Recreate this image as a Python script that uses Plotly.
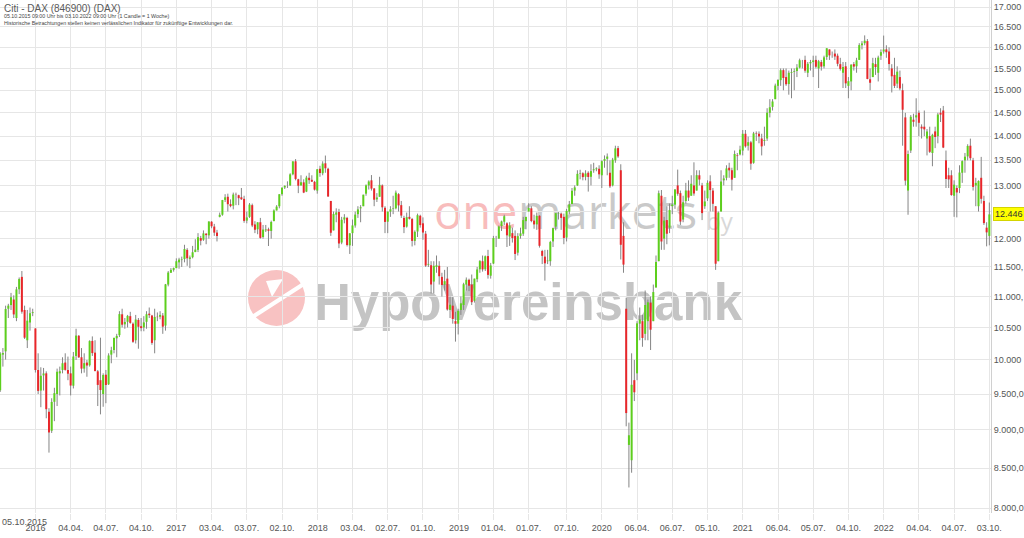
import math
import pandas as pd
import plotly.graph_objects as go

# ---------------- data (weekly candles, DAX) ----------------
first_week = "2015-10-05"

open_ = [
    # 2015
    9553, 10080, 10130, 10800, 10860, 10950, 10650, 11120, 11330, 10780, 10300, 10580, 10730,
    # 2016
    10485, 9850, 9550, 9770, 9800, 9250, 8990, 9390, 9500, 9800, 9850, 9960, 9850, 9800, 9620, 10060,
    10370, 10040, 9870, 9960, 9920, 10290, 10110, 9830, 9700, 9500, 9780, 9640, 10080, 10150, 10330,
    10380, 10710, 10550, 10590, 10680, 10560, 10300, 10620, 10520, 10500, 10590, 10720, 10690, 10300,
    10670, 10670, 10690, 10530, 11200, 11400, 11450,
    # 2017
    11480, 11580, 11620, 11640, 11800, 11640, 11670, 11760, 11800, 12010, 11980, 12090, 12060, 12310,
    12220, 12110, 12400, 12440, 12720, 12780, 12640, 12610, 12820, 12810, 12770, 12740, 12330, 12400,
    12620, 12260, 12170, 12300, 12030, 12150, 12170, 12140, 12320, 12520, 12600, 12830, 12960, 12990,
    13000, 13220, 13480, 13120, 13000, 13060, 12880, 13150, 13110, 13070,
    # 2018
    12900, 13330, 13240, 13440, 13330, 12700, 12150, 12440, 12490, 11930, 12350, 12380, 11880, 12100,
    12240, 12450, 12560, 12600, 12840, 13000, 13100, 12940, 12730, 12780, 13000, 12570, 12310, 12500,
    12550, 12560, 12830, 12620, 12380, 12220, 12400, 12360, 11960, 12130, 12420, 12280, 12090, 11540,
    11530, 11250, 11500, 11520, 11330, 11200, 11300, 10780, 10850, 10600, 10560,
    # 2019
    10780, 10860, 11200, 11280, 11200, 10930, 11290, 11460, 11600, 11460, 11690, 11350, 11560, 12000,
    12000, 12230, 12310, 12280, 12040, 12100, 12050, 11750, 12050, 12090, 12320, 12500, 12560, 12330,
    12260, 12420, 11780, 11680, 11600, 11600, 11950, 12220, 12460, 12460, 12400, 12020, 12500, 12640,
    12900, 13000, 13230, 13240, 13170, 13250, 13170, 13300, 13320, 13330,
    # 2020
    13200, 13490, 13530, 13250, 13000, 13500, 13750, 13300, 12050, 10800, 8800, 8600, 9700, 9800,
    10560, 10600, 10400, 10600, 10900, 10600, 11150, 11600, 12800, 12000, 12340, 12200, 12600, 12630,
    13000, 12850, 12350, 12700, 12900, 12800, 13000, 12900, 13200, 13000, 12600, 12750, 13080, 12900,
    12600, 11600, 12500, 13100, 13150, 13350, 13300, 13150, 13600, 13620,
    # 2021
    13700, 14050, 13800, 13870, 13450, 14060, 14050, 13950, 13900, 13950, 14500, 14630, 14800, 15100,
    15230, 15460, 15300, 15140, 15400, 15420, 15440, 15520, 15690, 15700, 15400, 15620, 15650, 15700,
    15500, 15650, 15550, 15770, 15950, 15850, 15850, 15800, 15600, 15400, 15550, 15100, 15200, 15600,
    15550, 15700, 16050, 16100, 16150, 15250, 15300, 15600, 15400, 15800,
    # 2022
    15900, 15950, 15900, 15500, 15350, 15150, 15300, 15000, 14400, 12900, 13700, 14350, 14400, 14500,
    14200, 14200, 13950, 14000, 13650, 14100, 14000, 14500, 14550, 13500, 13200, 13200, 12800, 12950,
    12950, 13250, 13500, 13580, 13800, 13500, 13000, 12600, 13150, 12700, 12200, 12050,
]

high = [
    # 2015
    10118, 10180, 10850, 10880, 11060, 11020, 11160, 11320, 11430, 10850, 10780, 10820, 10800,
    # 2016
    10485, 10100, 9890, 9880, 9830, 9300, 9440, 9590, 9870, 9900, 10040, 10100, 10050, 9900, 10120,
    10480, 10380, 10180, 10100, 10000, 10300, 10360, 10300, 9850, 10340, 9800, 9850, 10100, 10200,
    10340, 10400, 10760, 10800, 10650, 10700, 10750, 10580, 10700, 10650, 10650, 10680, 10760, 10820,
    10700, 10800, 10740, 10760, 10730, 11210, 11430, 11480, 11490,
    # 2017
    11650, 11660, 11680, 11890, 11830, 11700, 11870, 11990, 12100, 12050, 12150, 12100, 12320, 12320,
    12270, 12160, 12480, 12720, 12830, 12840, 12730, 12860, 12860, 12820, 12950, 12800, 12500, 12660,
    12650, 12320, 12300, 12380, 12250, 12250, 12200, 12330, 12540, 12620, 12830, 12960, 13000, 13080,
    13240, 13480, 13525, 13130, 13200, 13120, 13190, 13250, 13200, 13090,
    # 2018
    13320, 13390, 13480, 13597, 13350, 12700, 12500, 12560, 12550, 12400, 12450, 12400, 12100, 12350,
    12500, 12600, 12620, 12820, 13020, 13100, 13204, 12950, 12850, 13170, 13020, 12600, 12500, 12600,
    12800, 12900, 12850, 12700, 12420, 12480, 12600, 12380, 12150, 12460, 12440, 12390, 12140, 11800,
    11600, 11600, 11700, 11600, 11400, 11450, 11500, 11000, 10990, 10750, 10800,
    # 2019
    11000, 11230, 11320, 11300, 11370, 11300, 11500, 11620, 11700, 11700, 11800, 11570, 12050, 12050,
    12240, 12330, 12440, 12300, 12300, 12200, 12150, 12100, 12200, 12400, 12400, 12656, 12600, 12440,
    12480, 12430, 11800, 11800, 11800, 11960, 12200, 12470, 12490, 12480, 12460, 12550, 12700, 12950,
    13000, 13300, 13310, 13260, 13300, 13280, 13420, 13450, 13360, 13400,
    # 2020
    13500, 13600, 13640, 13500, 13550, 13800, 13795, 13420, 12300, 10980, 9100, 10100, 10000, 10600,
    10820, 10700, 11100, 10950, 11000, 11200, 11700, 12900, 12910, 12400, 12600, 12650, 12800, 12930,
    13313, 12900, 12800, 13050, 13100, 13200, 13460, 13300, 13300, 13050, 12900, 13100, 13200, 12950,
    12600, 12500, 13300, 13200, 13400, 13450, 13350, 13700, 13650, 13800,
    # 2021
    14130, 14130, 13990, 13900, 14090, 14100, 14100, 14050, 14200, 14600, 14800, 14800, 15150, 15250,
    15500, 15500, 15500, 15450, 15500, 15500, 15600, 15730, 15700, 15800, 15650, 15700, 15800, 15800,
    15700, 15700, 15800, 15980, 15950, 15900, 15950, 15850, 15750, 15650, 15650, 15300, 15600, 15650,
    15750, 16100, 16150, 16290, 16200, 15500, 15750, 15750, 15800, 15950,
    # 2022
    16285, 16050, 16000, 15600, 15750, 15550, 15450, 15150, 14500, 13700, 14450, 14480, 14820, 14550,
    14250, 14550, 14150, 14200, 14050, 14200, 14500, 14600, 14650, 13700, 13350, 13300, 13100, 13000,
    13400, 13500, 13650, 13830, 13948, 13550, 13150, 13100, 13570, 12800, 12300, 12670,
]

low = [
    # 2015
    9530, 9900, 10005, 10650, 10780, 10650, 10600, 11040, 10720, 10320, 10180, 10450, 10680,
    # 2016
    9812, 9500, 9314, 9550, 9160, 8699, 8960, 9120, 9330, 9480, 9800, 9840, 9700, 9480, 9580, 10000,
    10030, 9800, 9810, 9750, 9900, 10060, 9830, 9330, 9214, 9320, 9370, 9630, 9950, 10100, 10040,
    10350, 10500, 10480, 10500, 10560, 10260, 10250, 10170, 10440, 10440, 10480, 10650, 10230, 10100,
    10600, 10630, 10400, 10450, 11170, 11400, 11420,
    # 2017
    11480, 11470, 11500, 11580, 11520, 11480, 11650, 11760, 11760, 11880, 11960, 11900, 12000, 12190,
    12050, 11950, 12390, 12420, 12680, 12500, 12580, 12540, 12620, 12620, 12720, 12290, 12280, 12380,
    12210, 12100, 12080, 12000, 12000, 12120, 11868, 12000, 12320, 12520, 12560, 12800, 12930, 12950,
    12990, 13200, 13100, 12850, 13000, 12850, 12870, 13030, 13070, 12900,
    # 2018
    12840, 13170, 13200, 13250, 12780, 12050, 12150, 12300, 11830, 11900, 12280, 11860, 11727, 11870,
    12200, 12380, 12300, 12600, 12800, 12920, 12900, 12600, 12680, 12780, 12500, 12100, 12100, 12400,
    12450, 12540, 12500, 12380, 12100, 12200, 12350, 11860, 11880, 12030, 12200, 11980, 11500, 11500,
    11050, 11050, 11400, 11200, 11000, 11100, 10770, 10650, 10560, 10279, 10390,
    # 2019
    10700, 10780, 11100, 11090, 10860, 10900, 11240, 11400, 11420, 11430, 11300, 11300, 11550, 11850,
    12000, 12140, 12250, 11850, 11870, 11930, 11620, 11700, 12000, 12050, 12170, 12500, 12300, 12180,
    12160, 11840, 11550, 11266, 11550, 11520, 11850, 12150, 12350, 12160, 11900, 11950, 12450, 12640,
    12800, 12990, 13120, 13100, 13100, 12880, 13000, 13250, 13280, 13130,
    # 2020
    12950, 13350, 13200, 12950, 12980, 13450, 13550, 11630, 11400, 9050, 8255, 8440, 9400, 9700,
    10300, 10200, 10300, 10300, 10150, 10600, 11150, 11600, 11800, 11800, 11900, 12100, 12450, 12550,
    12800, 12250, 12300, 12650, 12700, 12800, 12800, 12900, 13000, 12340, 12550, 12700, 12500, 12500,
    11450, 11600, 12500, 13000, 13100, 13150, 12900, 13150, 13300, 13600,
    # 2021
    13600, 13760, 13700, 13310, 13430, 13900, 13850, 13600, 13800, 13900, 14400, 14550, 14800, 15000,
    15100, 15000, 15100, 14900, 14820, 15000, 15300, 15500, 15500, 15400, 15300, 15450, 15300, 15500,
    15050, 15450, 15500, 15700, 15700, 15750, 15700, 15550, 15450, 15050, 15050, 14820, 15000, 15450,
    15400, 15700, 15950, 16050, 15250, 15000, 15300, 15350, 15200, 15700,
    # 2022
    15850, 15750, 15450, 14950, 15050, 15050, 15000, 13800, 13000, 12439, 13650, 14200, 14200, 14000,
    13950, 14000, 13600, 13650, 13380, 13750, 13850, 14300, 13750, 12950, 12950, 12800, 12400, 12390,
    12850, 13050, 13250, 13500, 13500, 12900, 12600, 12500, 12650, 12250, 11862, 11880,
]

close_ = [
    # 2015
    10096, 10104, 10795, 10850, 10988, 10708, 11119, 11293, 10752, 10340, 10608, 10727, 10743,
    # 2016
    9849, 9545, 9764, 9798, 9286, 8967, 9388, 9513, 9824, 9831, 9950, 9851, 9795, 9622, 10051, 10373,
    10039, 9870, 9952, 9916, 10287, 10103, 9834, 9631, 9557, 9776, 9630, 10067, 10147, 10337, 10367,
    10713, 10544, 10588, 10684, 10573, 10276, 10626, 10511, 10490, 10580, 10711, 10696, 10259, 10668,
    10665, 10700, 10513, 11203, 11404, 11449, 11481,
    # 2017
    11599, 11629, 11630, 11814, 11651, 11666, 11757, 11804, 12027, 11963, 12095, 12064, 12313, 12225,
    12109, 12048, 12438, 12717, 12770, 12638, 12602, 12823, 12815, 12753, 12733, 12325, 12389, 12631,
    12240, 12162, 12298, 12014, 12165, 12168, 12142, 12304, 12519, 12592, 12829, 12956, 12992, 12992,
    13218, 13479, 13127, 12994, 13060, 12861, 13153, 13103, 13073, 12918,
    # 2018
    13320, 13245, 13434, 13340, 12785, 12107, 12452, 12483, 11913, 12346, 12390, 11886, 12096, 12241,
    12442, 12540, 12580, 12820, 13001, 13077, 12938, 12724, 12766, 13011, 12580, 12306, 12497, 12541,
    12561, 12860, 12616, 12424, 12210, 12394, 12364, 11960, 12124, 12431, 12247, 12111, 11524, 11553,
    11201, 11519, 11529, 11341, 11193, 11257, 10788, 10866, 10634, 10559, 10767,
    # 2019
    10888, 11205, 11281, 11180, 10907, 11300, 11457, 11602, 11458, 11686, 11364, 11526, 12010, 11999,
    12222, 12315, 12412, 12060, 12239, 12011, 11727, 12045, 12096, 12340, 12399, 12568, 12323, 12260,
    12419, 11872, 11694, 11563, 11612, 11939, 12192, 12469, 12468, 12381, 12013, 12512, 12634, 12895,
    12961, 13228, 13241, 13164, 13236, 13166, 13283, 13319, 13337, 13219,
    # 2020
    13483, 13526, 13577, 12982, 13514, 13744, 13579, 11890, 11541, 9232, 8929, 9633, 9525, 10565,
    10626, 10336, 10861, 10905, 10465, 11074, 11587, 12848, 11949, 12331, 12089, 12528, 12633, 12920,
    12838, 12313, 12675, 12901, 12765, 13033, 12843, 13202, 13116, 12470, 12690, 13051, 12909, 12646,
    11556, 12480, 13077, 13137, 13336, 13298, 13114, 13630, 13587, 13719,
    # 2021
    14049, 13787, 13873, 13433, 14057, 14050, 13993, 13786, 13920, 14502, 14621, 14749, 15107, 15234,
    15459, 15280, 15136, 15400, 15417, 15437, 15520, 15693, 15693, 15448, 15608, 15650, 15688, 15540,
    15669, 15544, 15761, 15977, 15808, 15852, 15781, 15609, 15490, 15531, 15156, 15206, 15587, 15543,
    15689, 16054, 16094, 16160, 15257, 15170, 15623, 15532, 15756, 15885,
    # 2022
    15948, 15883, 15603, 15318, 15100, 15425, 15042, 14567, 13094, 13628, 14413, 14305, 14446, 14284,
    14163, 14143, 14098, 13674, 14027, 13982, 14462, 14460, 13762, 13126, 13118, 12813, 13015, 12864,
    13254, 13484, 13574, 13795, 13544, 12971, 13050, 13088, 12741, 12284, 12114, 12446,
]

x_tick_dates = [
    "2016-01-04", "2016-04-04", "2016-07-04", "2016-10-04", "2017-01-02", "2017-04-03", "2017-07-03",
    "2017-10-02", "2018-01-02", "2018-04-03", "2018-07-02", "2018-10-01", "2019-01-02", "2019-04-01",
    "2019-07-01", "2019-10-07", "2020-01-06", "2020-04-06", "2020-07-06", "2020-10-05", "2021-01-04",
    "2021-04-06", "2021-07-05", "2021-10-04", "2022-01-03", "2022-04-04", "2022-07-04", "2022-10-03",
]
x_tick_text = [
    "2016", "04.04.", "04.07.", "04.10.", "2017", "03.04.", "03.07.", "02.10.", "2018", "03.04.",
    "02.07.", "01.10.", "2019", "01.04.", "01.07.", "07.10.", "2020", "06.04.", "06.07.", "05.10.",
    "2021", "06.04.", "05.07.", "04.10.", "2022", "04.04.", "04.07.", "03.10.",
]
y_tick_values = [8000, 8500, 9000, 9500, 10000, 10500, 11000, 11500, 12000, 12500, 13000,
                 13500, 14000, 14500, 15000, 15500, 16000, 16500, 17000]
y_tick_text = ["8.000,0", "8.500,0", "9.000,0", "9.500,0", "10.000", "10.500", "11.000,", "11.500,",
               "12.000", "12.500", "13.000", "13.500", "14.000", "14.500", "15.000", "15.500",
               "16.000", "16.500", "17.000"]
last_price = 12446
last_price_text = "12.446"
start_label = "05.10.2015"

title_text = "Citi - DAX (846900) (DAX)"
subtitle_1 = "05.10.2015 09:00 Uhr bis 03.10.2022 09:00 Uhr (1 Candle = 1 Woche)"
subtitle_2 = "Historische Betrachtungen stellen keinen verlässlichen Indikator für zukünftige Entwicklungen dar."

# ---------------- layout constants ----------------
W, H = 1024, 538
ML, MR, MT, MB = 0, 33, 0, 25
PW, PH = W - ML - MR, H - MT - MB
PX_PER_WEEK = 2.71

GREEN = "#5dcf1d"
RED = "#e9262a"
WICK = "#858585"
GRID = "#e6e6e6"
TXT = "#555555"

dates = pd.date_range(first_week, periods=len(close_), freq="7D")

# wicks
wx, wy = [], []
for d, lo, hi in zip(dates, low, high):
    wx += [d, d, None]
    wy += [lo, hi, None]
# bodies
ux, uy, dx, dy = [], [], [], []
for d, o, c in zip(dates, open_, close_):
    if c >= o:
        ux += [d, d, None]
        uy += [o, c, None]
    else:
        dx += [d, d, None]
        dy += [o, c, None]

fig = go.Figure()
fig.add_trace(go.Scatter(x=wx, y=wy, mode="lines", line=dict(color=WICK, width=1),
                         hoverinfo="skip", showlegend=False))
fig.add_trace(go.Scatter(x=ux, y=uy, mode="lines", line=dict(color=GREEN, width=2),
                         hoverinfo="skip", showlegend=False))
fig.add_trace(go.Scatter(x=dx, y=dy, mode="lines", line=dict(color=RED, width=2),
                         hoverinfo="skip", showlegend=False))

x_start = pd.Timestamp(first_week) - pd.Timedelta(hours=12)
x_end = x_start + pd.Timedelta(days=PW * 7 / PX_PER_WEEK)

y_lo, y_hi = 7944, 17180


def px(xp):
    return (xp - ML) / PW


def py(yp):
    return 1 - (yp - MT) / PH


shapes = []
annotations = []


def wm_text(text, x0, yc, size, color, family="Open Sans", weight="normal"):
    shapes.append(dict(
        type="rect", xref="paper", yref="paper",
        x0=px(x0), x1=px(x0 + 400), y0=py(yc + size), y1=py(yc - size),
        line=dict(width=0), fillcolor="rgba(0,0,0,0)", layer="below",
        label=dict(text=text, textposition="middle left", padding=0,
                   font=dict(family=family, size=size, color=color, weight=weight)),
    ))


# watermark "onemarkets by"
wm_text("one", 431, 214, 47, "#f8bcbc")
wm_text("markets", 515, 214, 47, "#c9c9c9")
wm_text("by", 703, 222, 24, "#d8d8d8")
# HypoVereinsbank logo
shapes.append(dict(type="circle", xref="paper", yref="paper",
                   x0=px(248), x1=px(305), y0=py(326), y1=py(270),
                   fillcolor="#f8c2c2", line=dict(width=0), layer="below"))


def path(pts):
    return "M " + " L ".join(f"{px(a):.5f},{py(b):.5f}" for a, b in pts) + " Z"


shapes.append(dict(type="path", xref="paper", yref="paper",
                   path=path([(250, 321), (306, 285), (306, 280), (250, 316)]),
                   fillcolor="white", line=dict(width=0), layer="below"))
shapes.append(dict(type="path", xref="paper", yref="paper",
                   path=path([(266, 281), (283, 279), (272, 297)]),
                   fillcolor="white", line=dict(width=0), layer="below"))
wm_text("HypoVereinsbank", 311, 297, 51, "#c4c4c4", family="Liberation Sans", weight="bold")

# header
annotations.append(dict(text=title_text, xref="paper", yref="paper", x=px(2), y=py(8),
                        xanchor="left", yanchor="middle", showarrow=False,
                        font=dict(family="Liberation Sans", size=10, color="#5a5a5a")))
annotations.append(dict(text=subtitle_1, xref="paper", yref="paper", x=px(2), y=py(16),
                        xanchor="left", yanchor="middle", showarrow=False,
                        font=dict(family="Liberation Sans", size=5.3, color="#444")))
annotations.append(dict(text=subtitle_2, xref="paper", yref="paper", x=px(2), y=py(22.5),
                        xanchor="left", yanchor="middle", showarrow=False,
                        font=dict(family="Liberation Sans", size=5.3, color="#444")))
# first date label
annotations.append(dict(text=start_label, xref="paper", yref="paper", x=px(0), y=py(522),
                        xanchor="left", yanchor="middle", showarrow=False,
                        font=dict(family="Liberation Sans", size=9, color=TXT)))
# last price box
annotations.append(dict(text=last_price_text, xref="paper", yref="y", x=1, xshift=2,
                        y=math.log10(last_price), xanchor="left", yanchor="middle",
                        showarrow=False, bgcolor="#ffff00", borderpad=1,
                        bordercolor="#d4d400", borderwidth=1,
                        font=dict(family="Liberation Sans", size=9, color="#333")))

fig.update_layout(
    width=W, height=H,
    margin=dict(l=ML, r=MR, t=MT, b=MB, pad=0),
    paper_bgcolor="white", plot_bgcolor="rgba(0,0,0,0)",
    showlegend=False,
    shapes=shapes, annotations=annotations,
    xaxis=dict(type="date", range=[x_start, x_end], tickmode="array",
               tickvals=x_tick_dates, ticktext=x_tick_text,
               showgrid=True, gridcolor=GRID, gridwidth=1,
               ticks="outside", ticklen=6, tickcolor=GRID, tickwidth=1,
               tickfont=dict(family="Liberation Sans", size=9, color=TXT),
               showline=False, zeroline=False, fixedrange=True),
    yaxis=dict(type="log", side="right", range=[math.log10(y_lo), math.log10(y_hi)],
               tickmode="array", tickvals=y_tick_values, ticktext=y_tick_text,
               showgrid=True, gridcolor=GRID, gridwidth=1, ticks="",
               tickfont=dict(family="Liberation Sans", size=9, color=TXT),
               showline=True, linecolor="#d0d0d0", linewidth=1,
               zeroline=False, fixedrange=True),
)

fig.write_html("out.html", config={"displayModeBar": False},
               post_script="document.body.style.margin='0';")
